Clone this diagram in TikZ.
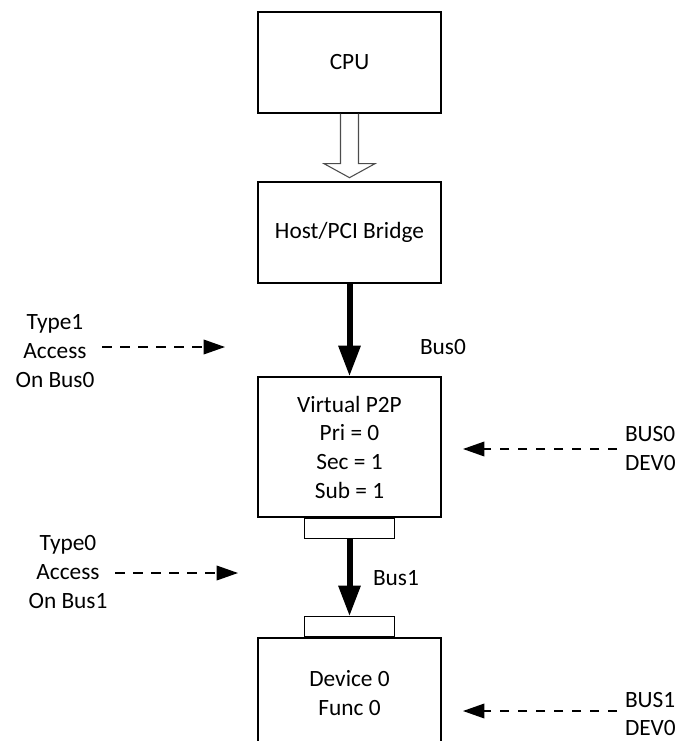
\documentclass[tikz,border=0pt]{standalone}
\usepackage{fontspec}
\setmainfont{Carlito}
\usetikzlibrary{arrows.meta,calc}

\begin{document}
\begin{tikzpicture}[
    x=0.75pt, y=-0.75pt,
    font=\fontsize{17.5}{21.5}\selectfont,
    box/.style={draw, line width=1pt, minimum width=137.25pt, align=center, inner sep=0pt},
    port/.style={draw, line width=0.8pt, minimum width=67.5pt, minimum height=15pt, inner sep=0pt},
    hollow/.style={draw=black!70, line width=0.8pt, line join=miter},
    bus/.style={line width=4.5pt, -{Triangle[width=15.75pt,length=23pt]}},
    acc/.style={dash pattern=on 7pt off 6.5pt, line width=1pt, -{Triangle[width=11pt,length=16pt]}},
    lbl/.style={align=center, inner sep=0pt, outer sep=6pt}]
  \clip (0,0) rectangle (682,741);
  % cpu and host bridge
  \node[box, minimum height=75.75pt] (cpu) at (349.5,62.5) {CPU};
  \node[box, minimum height=75.75pt] (host) at (349.5,232.5) {Host/PCI Bridge};
  \draw[hollow] ($(cpu.south)+(-9,0)$) -- ++(0,50) -- ++(-16.5,0) -- ++(25.5,14)
    -- ++(25.5,-14) -- ++(-16.5,0) -- ++(0,-50);
  % virtual p2p on bus0
  \node[box, minimum height=105pt] (p2p) at (349.5,447)
       {Virtual P2P\\Pri = 0\\Sec = 1\\Sub = 1};
  \node[port, anchor=north] (p2pport) at (p2p.south) {};
  \draw[bus] (host) -- (p2p);
  \node (bus0) at (443,347) {Bus0};
  % device on bus1
  \node[box, minimum height=82.5pt] (dev) at (349.5,693) {Device 0\\Func 0};
  \node[port, anchor=south] (devport) at (dev.north) {};
  \draw[bus] (p2pport) -- (devport);
  \node (bus1) at (396,578) {Bus1};
  % config accesses
  \node[lbl] (type1) at (55,351) {Type1\\Access\\On Bus0};
  \coordinate (type1tip) at (225,347);
  \draw[acc] (type1.east |- type1tip) -- (type1tip);
  \node[lbl] (type0) at (68,572) {Type0\\Access\\On Bus1};
  \coordinate (type0tip) at (238,573);
  \draw[acc] (type0.east |- type0tip) -- (type0tip);
  % bus/dev numbers
  \node[lbl, anchor=west, align=left] (bdev0) at (617,448.5) {BUS0\\DEV0};
  \coordinate (bdev0tip) at (463,449);
  \draw[acc] (bdev0.west |- bdev0tip) -- (bdev0tip);
  \node[lbl, anchor=west, align=left] (bdev1) at (617,714) {BUS1\\DEV0};
  \coordinate (bdev1tip) at (463,711);
  \draw[acc] (bdev1.west |- bdev1tip) -- (bdev1tip);
\end{tikzpicture}
\end{document}
